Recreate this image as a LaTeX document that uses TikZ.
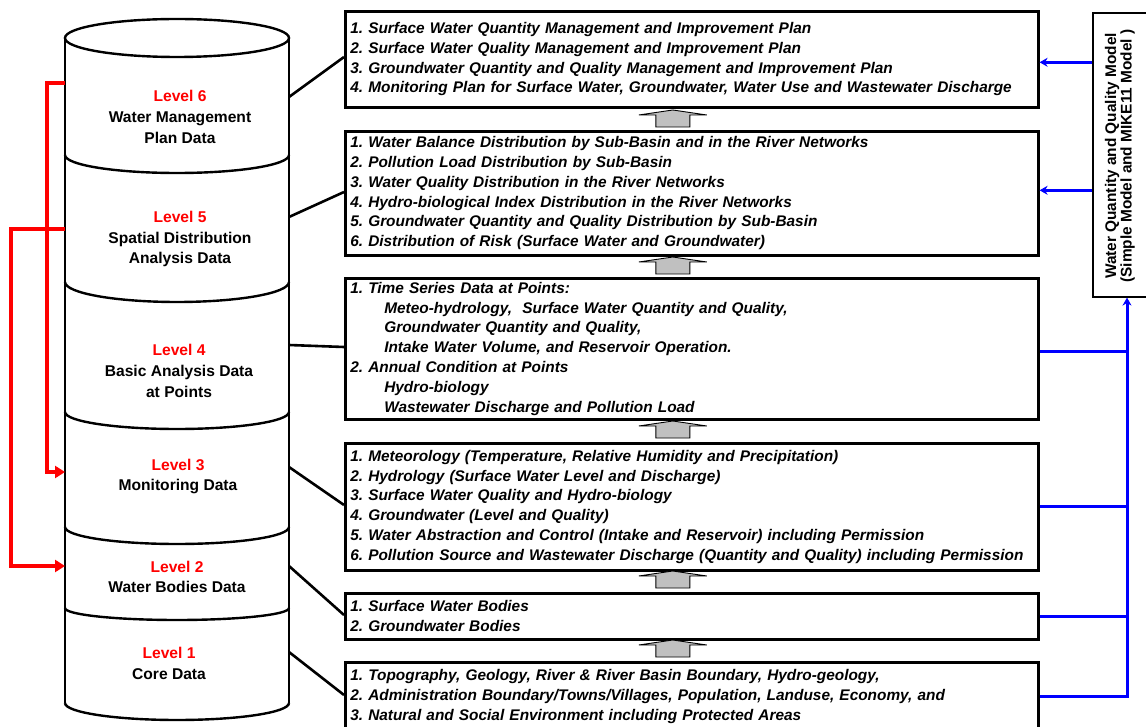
\documentclass[tikz,border=0pt]{standalone}
\usepackage{fontspec}
\setmainfont{Liberation Sans}
\usetikzlibrary{arrows.meta,calc}
\definecolor{lvred}{RGB}{255,0,0}
\definecolor{mdlblue}{RGB}{0,0,255}
\definecolor{arrgray}{RGB}{192,192,192}
\frenchspacing
\begin{document}
\begin{tikzpicture}[x=1pt,y=-1pt,
  cyl/.style={line width=2.4pt},
  lvtext/.style={align=center,font=\fontsize{15.6}{20.8}\selectfont\bfseries,inner sep=0pt},
  databox/.style={draw,line width=2.6pt,anchor=north west,inner xsep=5pt,inner ysep=0pt,
    minimum width=693pt,text width=683pt,align=left,
    font=\fontsize{15.4}{19.8}\selectfont\bfseries\itshape},
  link/.style={line width=2.6pt},
  feedback/.style={draw=lvred,line width=3.5pt,-{Triangle[length=10pt,width=12pt]}},
  modelflow/.style={draw=mdlblue,line width=3pt},
  modelarrow/.style={modelflow,-{Stealth[length=8pt,width=9pt]}},
  uparr/.pic={\draw[fill=arrgray,line width=0.9pt]
    (-17,0) -- (-17,-12) -- (-34,-12) -- (0,-17) -- (34,-12) -- (17,-12) -- (17,0) -- cycle;}
]
\useasboundingbox[fill=white] (0,0) rectangle (1146,727);

% stacked cylinder of data levels
\draw[cyl] (177,38) ellipse [x radius=112pt, y radius=19pt];
\draw[cyl] (65,38) -- (65,703);
\draw[cyl] (289,38) -- (289,703);
\foreach \yb/\d in {155/18,282/20,412/17,527/17,608/12,703/17}
  \draw[cyl] (65,\yb) arc[start angle=180,end angle=360,x radius=112pt,y radius=\d pt];

\node[lvtext] (l6) at (180,117) {\textcolor{lvred}{Level 6}\\Water Management\\Plan Data};
\node[lvtext] (l5) at (180,239) {\textcolor{lvred}{Level 5}\\Spatial Distribution\\Analysis Data};
\node[lvtext] (l4) at (179,371) {\textcolor{lvred}{Level 4}\\Basic Analysis Data\\at Points};
\node[lvtext] (l3) at (178,476.5) {\textcolor{lvred}{Level 3}\\Monitoring Data};
\node[lvtext] (l2) at (177,577) {\textcolor{lvred}{Level 2}\\Water Bodies Data};
\node[lvtext] (l1) at (169,663.5) {\textcolor{lvred}{Level 1}\\Core Data};

% anchor points on the cylinder wall
\coordinate (c6) at (289,97);
\coordinate (c5) at (289,217);
\coordinate (c4) at (289,345);
\coordinate (c3) at (289,467);
\coordinate (c2) at (289,566);
\coordinate (c1) at (289,652);
\coordinate (r6) at (65,83);
\coordinate (r5) at (65,229);
\coordinate (r3) at (65,472);
\coordinate (r2) at (65,566);

% content boxes
\node[databox,minimum height=96pt] (b1) at (344,10) {%
1. Surface Water Quantity Management and Improvement Plan\\
2. Surface Water Quality Management and Improvement Plan\\
3. Groundwater Quantity and Quality Management and Improvement Plan\\
4. Monitoring Plan for Surface Water, Groundwater, Water Use and Wastewater Discharge};
\node[databox,minimum height=124pt] (b2) at (344,130) {%
1. Water Balance Distribution by Sub-Basin and in the River Networks\\
2. Pollution Load Distribution by Sub-Basin\\
3. Water Quality Distribution in the River Networks\\
4. Hydro-biological Index Distribution in the River Networks\\
5. Groundwater Quantity and Quality Distribution by Sub-Basin\\
6. Distribution of Risk (Surface Water and Groundwater)};
\node[databox,minimum height=141pt] (b3) at (344,277) {%
1. Time Series Data at Points:\\
\hspace*{34pt}Meteo-hydrology,\ \ Surface Water Quantity and Quality,\\
\hspace*{34pt}Groundwater Quantity and Quality,\\
\hspace*{34pt}Intake Water Volume, and Reservoir Operation.\\
2. Annual Condition at Points\\
\hspace*{34pt}Hydro-biology\\
\hspace*{34pt}Wastewater Discharge and Pollution Load};
\node[databox,minimum height=127pt] (b4) at (344,442) {%
1. Meteorology (Temperature, Relative Humidity and Precipitation)\\
2. Hydrology (Surface Water Level and Discharge)\\
3. Surface Water Quality and Hydro-biology\\
4. Groundwater (Level and Quality)\\
5. Water Abstraction and Control (Intake and Reservoir) including Permission\\
6. Pollution Source and Wastewater Discharge (Quantity and Quality) including Permission};
\node[databox,minimum height=46pt] (b5) at (344,592) {%
1. Surface Water Bodies\\
2. Groundwater Bodies};
\node[databox,minimum height=68pt] (b6) at (344,661) {%
1. Topography, Geology, River \& River Basin Boundary, Hydro-geology,\\
2. Administration Boundary/Towns/Villages, Population, Landuse, Economy, and\\
3. Natural and Social Environment including Protected Areas};

% model box
\node[draw,line width=1.2pt,minimum width=68pt,minimum height=284pt,inner sep=0pt] (m) at (1127,155) {};
\node[rotate=90,align=center,inner sep=0pt,font=\fontsize{15.4}{15.5}\selectfont\bfseries] (mt) at (1120,156)
  {Water Quantity and Quality Model\\(Simple Model and MIKE11 Model )};

% links from levels to boxes
\draw[link] (c6) -- ($(b1.north west)+(0,47)$);
\draw[link] (c5) -- ($(b2.north west)+(0,62)$);
\draw[link] (c4) -- ($(b3.north west)+(0,70)$);
\draw[link] (c3) -- ($(b4.north west)+(0,63)$);
\draw[link] (c2) -- ($(b5.north west)+(0,23)$);
\draw[link] (c1) -- ($(b6.north west)+(0,34)$);

% upward block arrows between boxes
\pic at ($(b2.north)+(-19,-3)$) {uparr};
\pic at ($(b3.north)+(-19,-3)$) {uparr};
\pic at ($(b4.north)+(-19,-4)$) {uparr};
\pic at ($(b5.north)+(-19,-4)$) {uparr};
\pic at ($(b6.north)+(-19,-4)$) {uparr};

% feedback loops
\draw[feedback] (r6) -- ++(-18,0) |- (r3);
\draw[feedback] (r5) -- ++(-54,0) |- (r2);

% model inputs and outputs
\draw[modelarrow] (b6.east) -| (m.south);
\draw[modelflow] ([yshift=-2.5pt]b3.east) -- ([yshift=-2.5pt]b3.east -| m.south);
\draw[modelflow] (b4.east) -- (b4.east -| m.south);
\draw[modelflow] (b5.east) -- (b5.east -| m.south);
\draw[modelarrow] ([yshift=-3pt]m.west |- b1.east) -- ([yshift=-3pt]b1.east);
\draw[modelarrow] ([yshift=3pt]m.west |- b2.east) -- ([yshift=3pt]b2.east);
\end{tikzpicture}
\end{document}
